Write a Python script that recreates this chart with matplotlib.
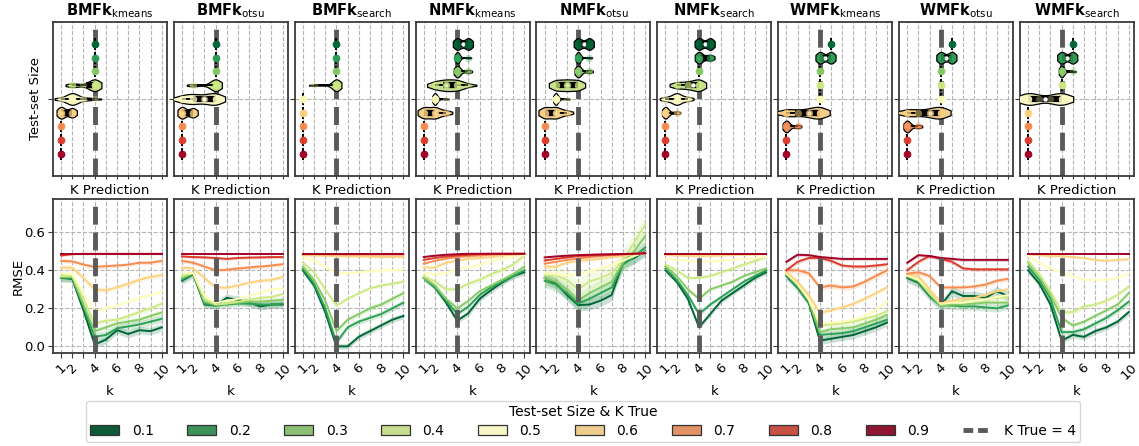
import colorsys
import numpy as np
import matplotlib
matplotlib.use("Agg")
import matplotlib.pyplot as plt
from matplotlib.patches import Patch
from matplotlib.lines import Line2D

# ---------------------------------------------------------
# DATA
# ---------------------------------------------------------
K_VALUES = list(range(1, 11))
K_TICK_LABELS = ["1", "2", "", "4", "", "6", "", "8", "", "10"]
SIZES = [0.1, 0.2, 0.3, 0.4, 0.5, 0.6, 0.7, 0.8, 0.9]
SIZE_LABELS = ["0.1", "0.2", "0.3", "0.4", "0.5", "0.6", "0.7", "0.8", "0.9"]
K_TRUE = 4
METHODS = ["BMFk", "BMFk", "BMFk", "NMFk", "NMFk", "NMFk", "WMFk", "WMFk", "WMFk"]
VARIANTS = ["kmeans", "otsu", "search"] * 3

# predicted K per test-set size (k: count), one dict per size 0.1 .. 0.9
PRED_BMFK_KMEANS = [{4: 10}, {4: 10}, {4: 10}, {2: 3, 3: 1, 4: 10},
                    {1: 2, 2: 8, 3: 2, 4: 1}, {1: 5, 2: 4}, {1: 10}, {1: 10}, {1: 10}]
PRED_BMFK_OTSU = [{4: 10}, {4: 10}, {4: 10}, {2: 2, 4: 10},
                  {1: 3, 2: 4, 3: 2, 4: 6}, {1: 5, 2: 4}, {1: 10}, {1: 10}, {1: 10}]
PRED_BMFK_SEARCH = [{4: 10}, {4: 10}, {4: 10}, {2: 1, 4: 10},
                    {1: 10}, {1: 10}, {1: 10}, {1: 10}, {1: 10}]
PRED_NMFK_KMEANS = [{4: 5, 5: 5}, {4: 9, 5: 1}, {4: 8, 5: 2}, {2: 3, 3: 4, 4: 4, 5: 1},
                    {2: 9, 3: 1}, {1: 5, 2: 5, 3: 2}, {1: 10}, {1: 10}, {1: 10}]
PRED_NMFK_OTSU = [{4: 5, 5: 5}, {4: 9, 5: 1}, {4: 8, 5: 2}, {2: 4, 3: 4, 4: 4},
                  {2: 9, 3: 1}, {1: 5, 2: 5, 3: 2}, {1: 10}, {1: 10}, {1: 10}]
PRED_NMFK_SEARCH = [{4: 5, 5: 5}, {4: 6, 5: 3}, {4: 10}, {2: 3, 3: 3, 4: 6},
                    {1: 2, 2: 6, 3: 2}, {1: 8, 2: 2}, {1: 10}, {1: 10}, {1: 10}]
PRED_WMFK_KMEANS = [{5: 10}, {4: 5, 5: 5}, {4: 10}, {4: 10}, {4: 10},
                    {1: 4, 2: 2, 3: 3, 4: 7}, {1: 7, 2: 2}, {1: 10}, {1: 10}]
PRED_WMFK_OTSU = [{5: 10}, {4: 5, 5: 5}, {4: 10}, {4: 10}, {4: 10},
                  {1: 4, 2: 2, 3: 3, 4: 7}, {1: 7, 2: 2}, {1: 10}, {1: 10}]
PRED_WMFK_SEARCH = [{5: 10}, {4: 5, 5: 5}, {4: 8, 5: 1}, {4: 10},
                    {1: 6, 2: 1, 3: 1, 4: 6}, {1: 10}, {1: 10}, {1: 10}, {1: 10}]

# mean RMSE per k (rows: test-set size 0.1 .. 0.9)
RMSE_BMFK_KMEANS = [
    [0.36, 0.355, 0.19, 0.01, 0.035, 0.085, 0.065, 0.085, 0.08, 0.10],
    [0.36, 0.36, 0.21, 0.05, 0.06, 0.095, 0.105, 0.115, 0.13, 0.145],
    [0.365, 0.365, 0.22, 0.08, 0.10, 0.12, 0.13, 0.14, 0.16, 0.178],
    [0.37, 0.37, 0.25, 0.12, 0.135, 0.14, 0.16, 0.18, 0.20, 0.225],
    [0.385, 0.38, 0.28, 0.185, 0.20, 0.215, 0.235, 0.255, 0.27, 0.29],
    [0.415, 0.413, 0.36, 0.30, 0.295, 0.31, 0.33, 0.35, 0.365, 0.375],
    [0.45, 0.447, 0.43, 0.418, 0.422, 0.425, 0.43, 0.44, 0.44, 0.45],
    [0.478, 0.485, 0.487, 0.487, 0.487, 0.487, 0.487, 0.487, 0.487, 0.487],
    [0.487, 0.487, 0.487, 0.487, 0.487, 0.487, 0.487, 0.487, 0.487, 0.487],
]
RMSE_BMFK_OTSU = [
    [0.345, 0.38, 0.22, 0.215, 0.255, 0.245, 0.23, 0.21, 0.22, 0.22],
    [0.35, 0.385, 0.225, 0.215, 0.22, 0.225, 0.225, 0.22, 0.22, 0.225],
    [0.36, 0.385, 0.235, 0.22, 0.225, 0.23, 0.235, 0.235, 0.24, 0.245],
    [0.37, 0.385, 0.25, 0.22, 0.225, 0.235, 0.245, 0.255, 0.26, 0.275],
    [0.39, 0.385, 0.27, 0.23, 0.24, 0.25, 0.265, 0.285, 0.30, 0.305],
    [0.415, 0.41, 0.36, 0.31, 0.308, 0.32, 0.335, 0.345, 0.35, 0.365],
    [0.45, 0.44, 0.42, 0.40, 0.403, 0.41, 0.415, 0.42, 0.425, 0.432],
    [0.473, 0.47, 0.468, 0.465, 0.46, 0.465, 0.467, 0.468, 0.47, 0.47],
    [0.485, 0.485, 0.485, 0.485, 0.485, 0.485, 0.485, 0.485, 0.485, 0.485],
]
RMSE_BMFK_SEARCH = [
    [0.40, 0.32, 0.18, 0.0, 0.0, 0.05, 0.08, 0.11, 0.14, 0.16],
    [0.41, 0.33, 0.20, 0.02, 0.10, 0.13, 0.15, 0.17, 0.20, 0.23],
    [0.42, 0.35, 0.24, 0.08, 0.14, 0.17, 0.20, 0.22, 0.25, 0.28],
    [0.44, 0.39, 0.30, 0.215, 0.25, 0.28, 0.305, 0.32, 0.33, 0.34],
    [0.47, 0.45, 0.42, 0.385, 0.385, 0.39, 0.395, 0.40, 0.40, 0.405],
    [0.48, 0.478, 0.477, 0.475, 0.474, 0.473, 0.472, 0.47, 0.47, 0.47],
    [0.485, 0.485, 0.484, 0.484, 0.483, 0.483, 0.483, 0.483, 0.483, 0.483],
    [0.487, 0.487, 0.487, 0.487, 0.487, 0.487, 0.487, 0.487, 0.487, 0.487],
    [0.488, 0.488, 0.488, 0.488, 0.488, 0.488, 0.488, 0.488, 0.488, 0.488],
]
RMSE_NMFK_KMEANS = [
    [0.36, 0.31, 0.23, 0.135, 0.175, 0.25, 0.295, 0.335, 0.37, 0.39],
    [0.36, 0.31, 0.24, 0.17, 0.21, 0.27, 0.31, 0.34, 0.37, 0.40],
    [0.36, 0.32, 0.25, 0.20, 0.24, 0.29, 0.32, 0.35, 0.38, 0.42],
    [0.37, 0.34, 0.30, 0.30, 0.33, 0.35, 0.38, 0.40, 0.43, 0.48],
    [0.385, 0.38, 0.385, 0.41, 0.415, 0.43, 0.45, 0.46, 0.47, 0.48],
    [0.415, 0.415, 0.44, 0.452, 0.46, 0.465, 0.47, 0.477, 0.482, 0.487],
    [0.435, 0.45, 0.462, 0.47, 0.475, 0.478, 0.482, 0.485, 0.487, 0.487],
    [0.455, 0.465, 0.473, 0.478, 0.482, 0.485, 0.487, 0.487, 0.487, 0.487],
    [0.47, 0.477, 0.482, 0.485, 0.487, 0.487, 0.487, 0.487, 0.487, 0.487],
]
RMSE_NMFK_OTSU = [
    [0.36, 0.333, 0.27, 0.217, 0.22, 0.24, 0.27, 0.44, 0.465, 0.50],
    [0.345, 0.325, 0.28, 0.225, 0.25, 0.28, 0.31, 0.43, 0.47, 0.52],
    [0.36, 0.34, 0.30, 0.24, 0.28, 0.31, 0.34, 0.44, 0.50, 0.58],
    [0.375, 0.375, 0.35, 0.30, 0.34, 0.36, 0.385, 0.455, 0.545, 0.64],
    [0.385, 0.38, 0.375, 0.38, 0.395, 0.41, 0.43, 0.45, 0.475, 0.495],
    [0.42, 0.42, 0.44, 0.45, 0.455, 0.46, 0.47, 0.475, 0.485, 0.49],
    [0.435, 0.445, 0.455, 0.462, 0.47, 0.475, 0.48, 0.483, 0.487, 0.49],
    [0.452, 0.46, 0.468, 0.475, 0.478, 0.48, 0.482, 0.485, 0.487, 0.49],
    [0.468, 0.473, 0.477, 0.48, 0.482, 0.484, 0.485, 0.486, 0.487, 0.49],
]
RMSE_NMFK_SEARCH = [
    [0.40, 0.34, 0.25, 0.10, 0.17, 0.24, 0.28, 0.32, 0.36, 0.39],
    [0.41, 0.35, 0.27, 0.17, 0.22, 0.26, 0.30, 0.34, 0.37, 0.40],
    [0.42, 0.37, 0.30, 0.25, 0.30, 0.32, 0.34, 0.37, 0.39, 0.41],
    [0.43, 0.40, 0.36, 0.36, 0.37, 0.39, 0.41, 0.43, 0.45, 0.47],
    [0.46, 0.455, 0.45, 0.445, 0.447, 0.45, 0.455, 0.46, 0.465, 0.47],
    [0.48, 0.478, 0.476, 0.475, 0.476, 0.478, 0.48, 0.482, 0.483, 0.485],
    [0.485, 0.485, 0.485, 0.485, 0.485, 0.485, 0.485, 0.485, 0.485, 0.485],
    [0.487, 0.487, 0.487, 0.487, 0.487, 0.487, 0.487, 0.487, 0.487, 0.487],
    [0.488, 0.488, 0.488, 0.488, 0.488, 0.488, 0.488, 0.488, 0.488, 0.488],
]
RMSE_WMFK_KMEANS = [
    [0.37, 0.31, 0.23, 0.03, 0.04, 0.05, 0.06, 0.08, 0.10, 0.125],
    [0.375, 0.315, 0.235, 0.06, 0.065, 0.07, 0.08, 0.10, 0.12, 0.14],
    [0.38, 0.32, 0.24, 0.075, 0.09, 0.095, 0.10, 0.12, 0.14, 0.165],
    [0.385, 0.33, 0.25, 0.11, 0.115, 0.12, 0.13, 0.145, 0.16, 0.185],
    [0.385, 0.33, 0.25, 0.12, 0.125, 0.13, 0.14, 0.16, 0.19, 0.235],
    [0.39, 0.34, 0.27, 0.175, 0.19, 0.205, 0.225, 0.25, 0.28, 0.31],
    [0.40, 0.40, 0.385, 0.31, 0.32, 0.31, 0.315, 0.34, 0.37, 0.40],
    [0.40, 0.445, 0.465, 0.465, 0.45, 0.425, 0.42, 0.42, 0.425, 0.432],
    [0.445, 0.482, 0.48, 0.47, 0.465, 0.46, 0.46, 0.46, 0.46, 0.46],
]
RMSE_WMFK_OTSU = [
    [0.36, 0.335, 0.265, 0.215, 0.29, 0.265, 0.265, 0.255, 0.29, 0.265],
    [0.365, 0.34, 0.27, 0.215, 0.215, 0.21, 0.21, 0.205, 0.20, 0.215],
    [0.37, 0.345, 0.275, 0.215, 0.22, 0.22, 0.225, 0.23, 0.23, 0.23],
    [0.37, 0.35, 0.28, 0.22, 0.23, 0.235, 0.24, 0.25, 0.255, 0.26],
    [0.375, 0.35, 0.30, 0.225, 0.23, 0.23, 0.24, 0.245, 0.26, 0.27],
    [0.38, 0.37, 0.30, 0.23, 0.24, 0.25, 0.255, 0.27, 0.29, 0.30],
    [0.382, 0.39, 0.37, 0.31, 0.31, 0.31, 0.315, 0.325, 0.345, 0.355],
    [0.40, 0.445, 0.475, 0.46, 0.445, 0.41, 0.405, 0.405, 0.405, 0.405],
    [0.44, 0.48, 0.475, 0.465, 0.46, 0.455, 0.455, 0.455, 0.455, 0.455],
]
RMSE_WMFK_SEARCH = [
    [0.40, 0.33, 0.22, 0.03, 0.06, 0.05, 0.08, 0.10, 0.13, 0.18],
    [0.42, 0.35, 0.25, 0.075, 0.075, 0.09, 0.12, 0.15, 0.19, 0.235],
    [0.44, 0.37, 0.27, 0.15, 0.11, 0.13, 0.16, 0.19, 0.22, 0.28],
    [0.45, 0.38, 0.29, 0.18, 0.18, 0.21, 0.22, 0.24, 0.27, 0.315],
    [0.475, 0.44, 0.41, 0.39, 0.37, 0.35, 0.35, 0.35, 0.36, 0.385],
    [0.485, 0.48, 0.475, 0.475, 0.47, 0.465, 0.455, 0.45, 0.455, 0.458],
    [0.486, 0.486, 0.486, 0.486, 0.486, 0.486, 0.486, 0.486, 0.486, 0.486],
    [0.487, 0.487, 0.487, 0.487, 0.487, 0.487, 0.487, 0.487, 0.487, 0.487],
    [0.488, 0.488, 0.488, 0.488, 0.488, 0.488, 0.488, 0.488, 0.488, 0.488],
]

# half-width of the shaded band per test-set size
BAND_BMFK_KMEANS = [0.02, 0.02, 0.015, 0.015, 0.01, 0.015, 0.01, 0.005, 0.003]
BAND_BMFK_OTSU = [0.02, 0.015, 0.015, 0.01, 0.01, 0.01, 0.01, 0.008, 0.003]
BAND_BMFK_SEARCH = [0.015, 0.015, 0.015, 0.01, 0.01, 0.005, 0.004, 0.003, 0.003]
BAND_NMFK_KMEANS = [0.015, 0.012, 0.012, 0.015, 0.01, 0.006, 0.005, 0.004, 0.003]
BAND_NMFK_OTSU = [0.03, 0.035, 0.04, 0.05, 0.01, 0.006, 0.005, 0.004, 0.003]
BAND_NMFK_SEARCH = [0.012, 0.012, 0.01, 0.01, 0.006, 0.004, 0.003, 0.003, 0.003]
BAND_WMFK_KMEANS = [0.02, 0.02, 0.015, 0.012, 0.012, 0.012, 0.015, 0.01, 0.008]
BAND_WMFK_OTSU = [0.025, 0.02, 0.015, 0.012, 0.012, 0.012, 0.012, 0.01, 0.008]
BAND_WMFK_SEARCH = [0.015, 0.015, 0.012, 0.012, 0.008, 0.006, 0.004, 0.003, 0.003]

PREDICTIONS = [PRED_BMFK_KMEANS, PRED_BMFK_OTSU, PRED_BMFK_SEARCH,
               PRED_NMFK_KMEANS, PRED_NMFK_OTSU, PRED_NMFK_SEARCH,
               PRED_WMFK_KMEANS, PRED_WMFK_OTSU, PRED_WMFK_SEARCH]
RMSES = [RMSE_BMFK_KMEANS, RMSE_BMFK_OTSU, RMSE_BMFK_SEARCH,
         RMSE_NMFK_KMEANS, RMSE_NMFK_OTSU, RMSE_NMFK_SEARCH,
         RMSE_WMFK_KMEANS, RMSE_WMFK_OTSU, RMSE_WMFK_SEARCH]
BANDS = [BAND_BMFK_KMEANS, BAND_BMFK_OTSU, BAND_BMFK_SEARCH,
         BAND_NMFK_KMEANS, BAND_NMFK_OTSU, BAND_NMFK_SEARCH,
         BAND_WMFK_KMEANS, BAND_WMFK_OTSU, BAND_WMFK_SEARCH]

# ---------------------------------------------------------
# STYLE
# ---------------------------------------------------------
CMAP = plt.get_cmap("RdYlGn_r")
COLORS = [CMAP(x) for x in np.linspace(0, 1, len(SIZES))]
SPINE = "#3a3a3a"
KTRUE_COLOR = "#5a5a5a"
GRID_KW = dict(color="#b5b5b5", linestyle="--", linewidth=0.8)
FS = 9.5


def desaturate(c, prop=0.75):
    h, l, s = colorsys.rgb_to_hls(*c[:3])
    return colorsys.hls_to_rgb(h, l, s * prop)


FILLS = [desaturate(c) for c in COLORS]


def draw_violin(ax, counts, pos, color, fill, width=0.085):
    samples = np.repeat(list(counts.keys()), list(counts.values())).astype(float)
    if len(np.unique(samples)) == 1:
        ax.vlines(samples[0], pos - width / 2, pos + width / 2, color="k", lw=1.4, zorder=3)
    else:
        bw = samples.std(ddof=1) * len(samples) ** (-0.2)
        grid = np.linspace(samples.min() - 1.2 * bw, samples.max() + 1.2 * bw, 200)
        dens = np.exp(-0.5 * ((grid[:, None] - samples[None, :]) / bw) ** 2).sum(axis=1)
        stats = [dict(coords=grid, vals=dens, mean=samples.mean(), median=np.median(samples),
                      min=samples.min(), max=samples.max())]
        parts = ax.violin(stats, positions=[pos], orientation="horizontal", widths=width,
                          showextrema=False)
        for body in parts["bodies"]:
            body.set_facecolor(fill)
            body.set_edgecolor("k")
            body.set_linewidth(0.9)
            body.set_alpha(1)
            body.set_zorder(3)
        q1, med, q3 = np.percentile(samples, [25, 50, 75])
        ax.hlines(pos, samples.min(), samples.max(), color="k", lw=1.4, zorder=4)
        ax.hlines(pos, q1, q3, color="k", lw=4.5, zorder=4)
        ax.scatter([med], [pos], s=10, color="white", zorder=5, linewidths=0)
    ax.scatter(samples, np.full_like(samples, pos), s=28, color=color, alpha=0.3,
               linewidths=0, zorder=6)


# ---------------------------------------------------------
# FIGURE
# ---------------------------------------------------------
fig, axes = plt.subplots(2, 9, figsize=(11.39, 4.46), dpi=100)
fig.subplots_adjust(left=0.0465, right=0.9956, top=0.9507, bottom=0.2085,
                    wspace=0.06, hspace=0.15)

for j in range(9):
    ax_top, ax_bot = axes[0, j], axes[1, j]

    # violins
    for i, size in enumerate(SIZES):
        draw_violin(ax_top, PREDICTIONS[j][i], size, COLORS[i], FILLS[i])
    ax_top.axvline(K_TRUE, color=KTRUE_COLOR, ls="--", lw=3.5, zorder=2)
    ax_top.set_ylim(1.06, -0.06)
    ax_top.set_yticks([0.5])
    ax_top.set_yticklabels([])
    ax_top.set_xticks(K_VALUES)
    ax_top.set_xticklabels([])
    ax_top.set_xlabel("K Prediction", fontsize=FS, labelpad=1)
    ax_top.set_title(r"$\mathbf{%s}_{\mathrm{%s}}$" % (METHODS[j], VARIANTS[j]),
                     fontsize=10.5, pad=5)

    # rmse lines
    for i, size in enumerate(SIZES):
        y = np.array(RMSES[j][i])
        ax_bot.fill_between(K_VALUES, y - BANDS[j][i], y + BANDS[j][i],
                            color=COLORS[i], alpha=0.2, linewidth=0, zorder=2)
        ax_bot.plot(K_VALUES, y, color=COLORS[i], lw=1.4, zorder=3)
    ax_bot.axvline(K_TRUE, color=KTRUE_COLOR, ls="--", lw=3.5, zorder=5)
    ax_bot.set_ylim(-0.035, 0.775)
    ax_bot.set_yticks([0.0, 0.2, 0.4, 0.6])
    ax_bot.set_xticks(K_VALUES)
    ax_bot.set_xticklabels(K_TICK_LABELS, rotation=45, fontsize=FS)
    ax_bot.set_xlabel("k", fontsize=FS, labelpad=2)
    if j == 0:
        ax_bot.set_yticklabels(["0.0", "0.2", "0.4", "0.6"], fontsize=FS)
        ax_bot.set_ylabel("RMSE", fontsize=FS, labelpad=0)
        ax_top.set_ylabel("Test-set Size", fontsize=FS, labelpad=2.5)
    else:
        ax_bot.set_yticklabels([])

    for ax in (ax_top, ax_bot):
        ax.set_xlim(0.27, 10.47)
        ax.grid(True, **GRID_KW)
        ax.set_axisbelow(True)
        ax.tick_params(length=3.5, color=SPINE, pad=2)
        for sp in ax.spines.values():
            sp.set_color(SPINE)
            sp.set_linewidth(1.3)
    ax_top.tick_params(axis="x", length=2.5)

handles = [Patch(facecolor=FILLS[i], edgecolor="#333333", linewidth=0.9, label=SIZE_LABELS[i])
           for i in range(len(SIZES))]
handles.append(Line2D([0], [0], color=KTRUE_COLOR, lw=3.5, dashes=(2.0, 1.0),
                      label=f"K True = {K_TRUE}"))
fig.legend(handles=handles, loc="lower center", bbox_to_anchor=(0.512, 0.006), ncol=10,
           title="Test-set Size & K True", fontsize=10, title_fontsize=10,
           handlelength=2.1, handleheight=0.75, columnspacing=2.4, handletextpad=0.9,
           borderpad=0.3, labelspacing=0.35, borderaxespad=0.1,
           frameon=True, edgecolor="#cccccc")

fig.savefig("out.png", dpi=100)
plt.close(fig)
